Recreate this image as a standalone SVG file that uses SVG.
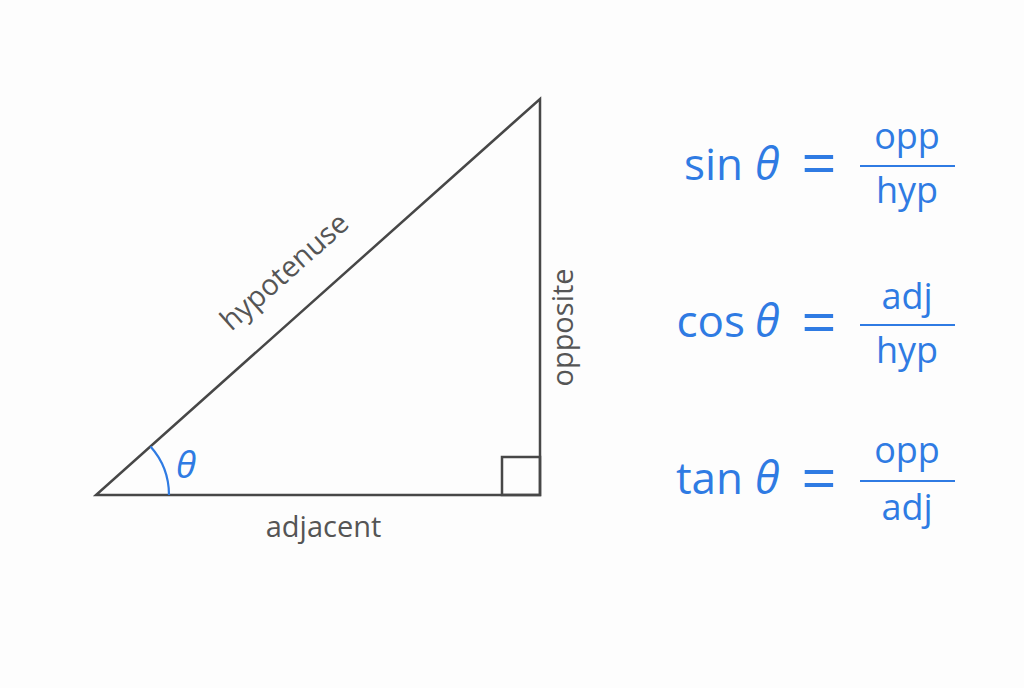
<svg xmlns="http://www.w3.org/2000/svg" width="1024" height="688" viewBox="0 0 1024 688">
<style>
.edge{fill:none;stroke:#474747;stroke-width:2.5;stroke-linejoin:miter}
.lbl{font-family:"Open Sans","Noto Sans","Liberation Sans",sans-serif;font-size:29px;fill:#555555}
.fn{font-family:"Open Sans","Noto Sans","Liberation Sans",sans-serif;font-size:44px;fill:#2f7be3}
.eq{font-family:"Open Sans","Noto Sans","Liberation Sans",sans-serif;font-size:62px;fill:#2f7be3;text-anchor:middle}
.th{font-family:"Open Sans","Noto Sans","DejaVu Sans",sans-serif;font-style:italic;fill:#2f7be3}
.frac{font-family:"Open Sans","Noto Sans","Liberation Sans",sans-serif;font-size:36px;fill:#2f7be3;text-anchor:middle}
.bar{stroke:#2f7be3;stroke-width:2.2}
</style>
<rect width="1024" height="688" fill="#fdfdfd"/>
<g id="triangle">
<polygon class="edge" points="96,495 540,495 540,99"/>
<rect class="edge" x="502" y="457" width="38" height="38"/>
<path d="M169,495 A73,73 0 0 0 150.5,446.5" fill="none" stroke="#2f7be3" stroke-width="2.2"/>
<text class="th" x="176" y="478" font-size="37">θ</text>
</g>
<g id="labels">
<text class="lbl" x="323.5" y="537" text-anchor="middle">adjacent</text>
<text class="lbl" text-anchor="middle" transform="translate(291,279) rotate(-41.66)">hypotenuse</text>
<text class="lbl" text-anchor="middle" transform="translate(573,327.5) rotate(-90)" font-size="30">opposite</text>
</g>
<g id="sin">
<text class="fn" x="743" y="180" text-anchor="end">sin</text>
<text class="th" x="755" y="180" font-size="45">θ</text>
<text class="eq" x="819" y="186">=</text>
<line class="bar" x1="860" y1="166" x2="955" y2="166"/>
<text class="frac" x="907" y="149">opp</text>
<text class="frac" x="907" y="203">hyp</text>
</g>
<g id="cos">
<text class="fn" x="745" y="337" text-anchor="end">cos</text>
<text class="th" x="755" y="337" font-size="45">θ</text>
<text class="eq" x="819" y="345">=</text>
<line class="bar" x1="860" y1="325" x2="955" y2="325"/>
<text class="frac" x="907" y="309">adj</text>
<text class="frac" x="907" y="363">hyp</text>
</g>
<g id="tan">
<text class="fn" x="743" y="494" text-anchor="end">tan</text>
<text class="th" x="755" y="494" font-size="45">θ</text>
<text class="eq" x="819" y="501">=</text>
<line class="bar" x1="860" y1="481" x2="955" y2="481"/>
<text class="frac" x="907" y="463">opp</text>
<text class="frac" x="907" y="520">adj</text>
</g>
</svg>
